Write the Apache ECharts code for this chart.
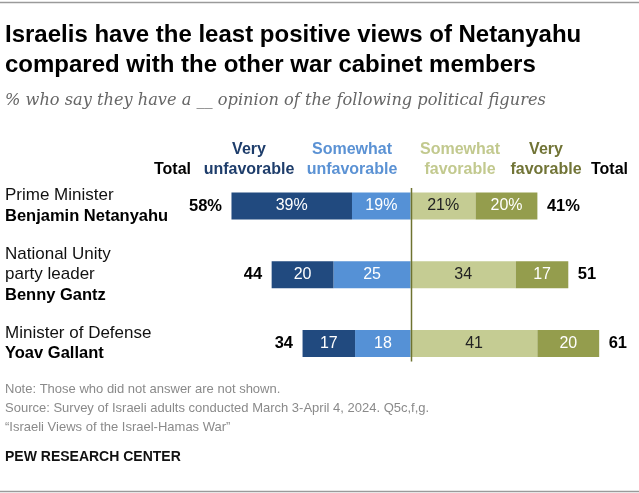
<!DOCTYPE html>
<html>
<head>
<meta charset="utf-8">
<script src="https://cdn.jsdelivr.net/npm/echarts@6/dist/echarts.min.js"></script>
<style>
html,body{margin:0;padding:0;background:#fff;}
#chart{width:639px;height:493px;}
</style>
</head>
<body>
<div id="chart"></div>
<script>
// ---- data ----
const categories = ['Netanyahu', 'Gantz', 'Gallant'];
const categoryRoles = ['Prime Minister', 'National Unity\nparty leader', 'Minister of Defense'];
const categoryNames = ['Benjamin Netanyahu', 'Benny Gantz', 'Yoav Gallant'];
const veryUnfavorable = [39, 20, 17];
const somewhatUnfavorable = [19, 25, 18];
const somewhatFavorable = [21, 34, 41];
const veryFavorable = [20, 17, 20];
const unfavorableTotal = [58, 44, 34];
const favorableTotal = [41, 51, 61];
const seriesNames = ['Very\nunfavorable', 'Somewhat\nunfavorable', 'Somewhat\nfavorable', 'Very\nfavorable'];

const FONT = "'Liberation Sans', Arial, sans-serif";
const colors = {
  vu: '#214a7f', su: '#5591d6', sf: '#c5cc93', vf: '#949d4d'
};
const headColors = {
  vu: '#1e3d6b', su: '#5b92d4', sf: '#c2c98e', vf: '#717436'
};

function fmt(v, i) {
  return Math.abs(v) + (i === 0 ? '%' : '');
}

const roleLookup = {};
categories.forEach((c, i) => { roleLookup[c] = i; });

const chart = echarts.init(document.getElementById('chart'), null, {renderer: 'canvas'});

function barSeries(name, values, color, sign, labelColor) {
  return {
    name: name,
    type: 'bar',
    stack: 'total',
    barWidth: 27,
    itemStyle: {color: color},
    label: {
      show: true,
      position: 'inside',
      color: labelColor,
      fontFamily: FONT,
      fontSize: 16,
      formatter: p => fmt(p.value, p.dataIndex)
    },
    data: values.map(v => sign * v)
  };
}

function totalSeries(totals, points, side) {
  return {
    type: 'scatter',
    symbol: 'circle',
    symbolSize: 1,
    itemStyle: {color: 'rgba(0,0,0,0)', opacity: 1},
    label: {
      show: true, position: side, distance: 9, opacity: 1,
      fontFamily: FONT, fontSize: 16.5, fontWeight: 'bold', color: '#000',
      formatter: p => totals[p.dataIndex] + (p.dataIndex === 0 ? '%' : '')
    },
    data: points
  };
}

const option = {
  animation: false,
  textStyle: {fontFamily: FONT},
  grid: {left: 225.3, right: 12, top: 171.6, bottom: 115.1, containLabel: false},
  xAxis: {
    type: 'value', min: -60, max: 70,
    show: false
  },
  yAxis: {
    type: 'category',
    inverse: true,
    data: categories,
    axisLine: {show: false},
    axisTick: {show: false},
    splitLine: {show: false},
    axisLabel: {
      align: 'left',
      margin: 220.3,
      formatter: (v) => {
        const i = roleLookup[v];
        const roleLines = categoryRoles[i].split('\n').map(s => '{r|' + s + '}').join('\n');
        return roleLines + '\n{b|' + categoryNames[i] + '}';
      },
      rich: {
        r: {fontFamily: FONT, fontSize: 17, color: '#111', lineHeight: 20.5},
        b: {fontFamily: FONT, fontSize: 16.5, fontWeight: 'bold', color: '#000', lineHeight: 20.5}
      }
    }
  },
  series: [
    barSeries(seriesNames[1], somewhatUnfavorable, colors.su, -1, '#fff'),
    barSeries(seriesNames[0], veryUnfavorable, colors.vu, -1, '#fff'),
    barSeries(seriesNames[2], somewhatFavorable, colors.sf, 1, '#222'),
    barSeries(seriesNames[3], veryFavorable, colors.vf, 1, '#fff'),
    totalSeries(unfavorableTotal, categories.map((c, i) => [-(veryUnfavorable[i] + somewhatUnfavorable[i]), c]), 'left'),
    totalSeries(favorableTotal, categories.map((c, i) => [veryFavorable[i] + somewhatFavorable[i], c]), 'right')
  ]
};

function txt(text, x, y, opts) {
  return {
    type: 'text',
    silent: true,
    style: Object.assign({
      text: text, x: x, y: y,
      fontFamily: FONT, fontSize: 16, fontWeight: 'normal', fill: '#000',
      align: 'left', verticalAlign: 'middle',
      textAlign: 'left', textVerticalAlign: 'middle'
    }, opts || {})
  };
}

const graphics = [
  {type: 'line', silent: true, shape: {x1: 0, y1: 2.5, x2: 639, y2: 2.5}, style: {stroke: '#9a9a9a', lineWidth: 1.5}},
  {type: 'line', silent: true, shape: {x1: 0, y1: 491.5, x2: 639, y2: 491.5}, style: {stroke: '#9a9a9a', lineWidth: 1.5}},
  txt('Israelis have the least positive views of Netanyahu\ncompared with the other war cabinet members', 5, 50,
      {fontSize: 24, fontWeight: 'bold', fill: '#000', lineHeight: 30}),
  txt('% who say they have a __ opinion of the following political figures', 5, 101,
      {fontFamily: "'DejaVu Serif', serif", fontStyle: 'italic', fontSize: 16.2, fill: '#666'}),
  txt('Total', 191, 170, {fontWeight: 'bold', align: 'right', textAlign: 'right'}),
  txt(seriesNames[0], 249, 160, {fontWeight: 'bold', fill: headColors.vu, align: 'center', textAlign: 'center', lineHeight: 20}),
  txt(seriesNames[1], 352, 160, {fontWeight: 'bold', fill: headColors.su, align: 'center', textAlign: 'center', lineHeight: 20}),
  txt(seriesNames[2], 460, 160, {fontWeight: 'bold', fill: headColors.sf, align: 'center', textAlign: 'center', lineHeight: 20}),
  txt(seriesNames[3], 546, 160, {fontWeight: 'bold', fill: headColors.vf, align: 'center', textAlign: 'center', lineHeight: 20}),
  txt('Total', 591, 170, {fontWeight: 'bold'}),
  txt('Note: Those who did not answer are not shown.', 5, 389, {fontSize: 13, fill: '#8a8a8a'}),
  txt('Source: Survey of Israeli adults conducted March 3-April 4, 2024. Q5c,f,g.', 5, 408, {fontSize: 13, fill: '#8a8a8a'}),
  txt('\u201cIsraeli Views of the Israel-Hamas War\u201d', 5, 427, {fontSize: 13, fill: '#8a8a8a'}),
  txt('PEW RESEARCH CENTER', 5, 457, {fontSize: 14, fontWeight: 'bold', fill: '#111'})
];
option.graphic = graphics;
chart.setOption(option);

// zero line, positioned through the chart's own scales
const pTop = chart.convertToPixel({xAxisIndex: 0, yAxisIndex: 0}, [0, categories[0]]);
const pBot = chart.convertToPixel({xAxisIndex: 0, yAxisIndex: 0}, [0, categories[categories.length - 1]]);
const zx = Math.round(pTop[0]) + 0.5;
graphics.push({
  type: 'line', silent: true, z: 100,
  shape: {x1: zx, y1: pTop[1] - 18, x2: zx, y2: pBot[1] + 18},
  style: {stroke: '#6e7330', lineWidth: 1.5}
});
chart.setOption({graphic: graphics});
</script>
</body>
</html>
